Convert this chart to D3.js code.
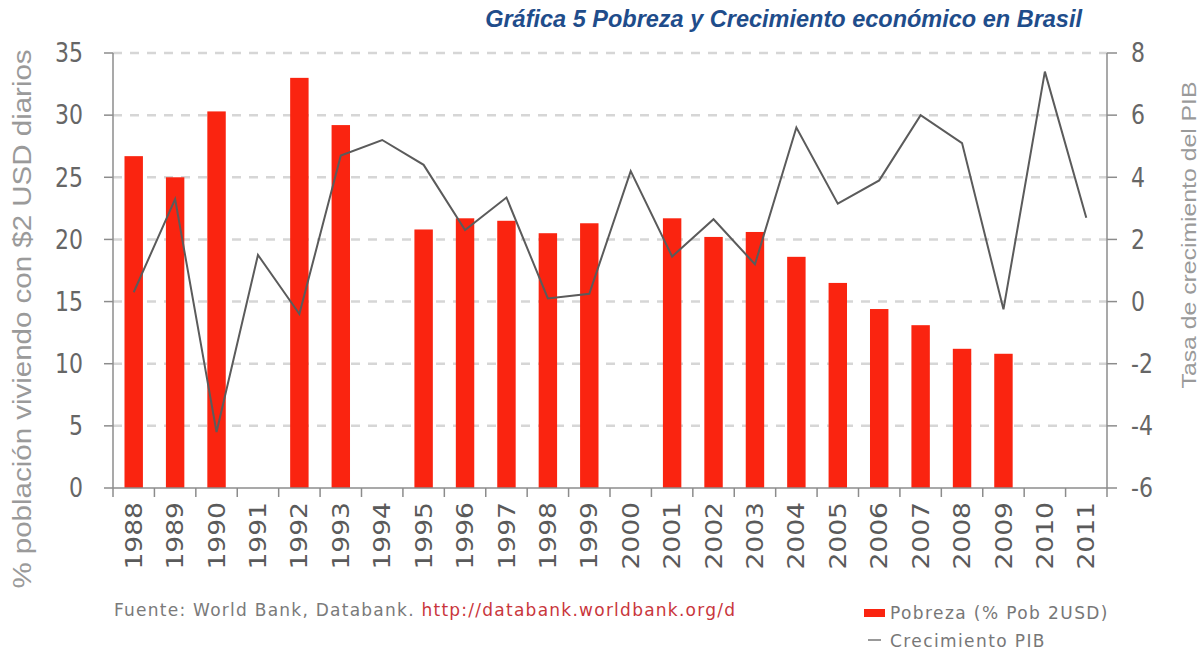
<!DOCTYPE html>
<html lang="es">
<head>
<meta charset="UTF-8">
<title>Pobreza y Crecimiento en Brasil</title>
<style>
  body { margin: 0; background: #fff; }
  svg { display: block; }
  .tick-label { font-family: "DejaVu Sans", Verdana, sans-serif; fill: #666; }
  .axis-title { font-family: "Liberation Sans", Arial, sans-serif; fill: #9a9a9a; }
</style>
<script src="https://cdn.jsdelivr.net/npm/d3@7"></script>
</head>
<body>
<svg width="1201" height="650"></svg>
<script>
// data
var years = ["1988","1989","1990","1991","1992","1993","1994","1995","1996","1997","1998","1999",
             "2000","2001","2002","2003","2004","2005","2006","2007","2008","2009","2010","2011"];
// % population living on $2/day (null = no data)
var pobreza = [26.7, 25.0, 30.3, null, 33.0, 29.2, null, 20.8, 21.7, 21.5, 20.5, 21.3,
               null, 21.7, 20.2, 20.6, 18.6, 16.5, 14.4, 13.1, 11.2, 10.8, null, null];
// GDP growth rate %
var crecimiento = [0.3, 3.3, -4.2, 1.5, -0.4, 4.7, 5.2, 4.4, 2.3, 3.35, 0.1, 0.25,
                   4.2, 1.45, 2.65, 1.2, 5.6, 3.15, 3.9, 6.0, 5.1, -0.25, 7.4, 2.7];
var leftTicks = [0, 5, 10, 15, 20, 25, 30, 35];
var rightTicks = [-6, -4, -2, 0, 2, 4, 6, 8];

var svg = d3.select("svg");
var plotL = 113, plotR = 1107, plotT = 53, plotB = 488;
var stretch = 1.18; // the original image is a bit taller than wide

var x = d3.scaleBand()
    .domain(years)
    .range([plotL, plotR])
    .paddingInner(0.555)
    .paddingOuter(0.2775);

var yL = d3.scaleLinear().domain([0, 35]).range([plotB, plotT]);
var yR = d3.scaleLinear().domain([-6, 8]).range([plotB, plotT]);

// title
svg.append("text")
    .attr("x", 1082).attr("y", 27)
    .attr("text-anchor", "end")
    .style("font-family", "'Liberation Sans', Arial, sans-serif")
    .style("font-weight", "bold")
    .style("font-style", "italic")
    .style("font-size", "23.5px")
    .style("fill", "#1f4d8b")
    .text("Gráfica 5 Pobreza y Crecimiento económico en Brasil");

// grid lines
svg.append("g")
    .selectAll("line")
    .data(leftTicks.filter(function (d) { return d > 0; }))
    .enter().append("line")
    .attr("x1", plotL).attr("x2", plotR)
    .attr("y1", function (d) { return yL(d); })
    .attr("y2", function (d) { return yL(d); })
    .attr("stroke", "#d6d6d6")
    .attr("stroke-width", 2.5)
    .attr("stroke-dasharray", "9,8");

// bars
svg.append("g")
    .selectAll("rect")
    .data(years.map(function (y, i) { return { year: y, v: pobreza[i] }; })
        .filter(function (d) { return d.v != null; }))
    .enter().append("rect")
    .attr("x", function (d) { return x(d.year); })
    .attr("width", x.bandwidth())
    .attr("y", function (d) { return yL(d.v); })
    .attr("height", function (d) { return yL(0) - yL(d.v); })
    .attr("fill", "#fa2410");

// growth line
var line = d3.line()
    .x(function (d) { return x(d.year) + x.bandwidth() / 2; })
    .y(function (d) { return yR(d.v); });

svg.append("path")
    .datum(years.map(function (y, i) { return { year: y, v: crecimiento[i] }; }))
    .attr("d", line)
    .attr("fill", "none")
    .attr("stroke", "#5b5b5b")
    .attr("stroke-width", 2);

// axes
var axisColor = "#8c8c8c";
svg.append("line").attr("x1", plotL).attr("x2", plotL).attr("y1", plotT).attr("y2", plotB)
    .attr("stroke", axisColor).attr("stroke-width", 1.5);
svg.append("line").attr("x1", plotR).attr("x2", plotR).attr("y1", plotT).attr("y2", plotB)
    .attr("stroke", axisColor).attr("stroke-width", 1.5);
svg.append("line").attr("x1", plotL).attr("x2", plotR).attr("y1", plotB).attr("y2", plotB)
    .attr("stroke", axisColor).attr("stroke-width", 1.5);

// left ticks
var gl = svg.append("g");
gl.selectAll("line").data(leftTicks).enter().append("line")
    .attr("x1", plotL - 9).attr("x2", plotL)
    .attr("y1", function (d) { return yL(d); })
    .attr("y2", function (d) { return yL(d); })
    .attr("stroke", axisColor).attr("stroke-width", 1.5);
gl.selectAll("text").data(leftTicks).enter().append("text")
    .attr("class", "tick-label")
    .attr("transform", function (d) { return "translate(83," + yL(d) + ") scale(1," + stretch + ")"; })
    .attr("dy", "0.36em")
    .attr("text-anchor", "end")
    .style("font-size", "22px")
    .text(function (d) { return d; });

// right ticks
var gr = svg.append("g");
gr.selectAll("line").data(rightTicks).enter().append("line")
    .attr("x1", plotR).attr("x2", plotR + 10)
    .attr("y1", function (d) { return yR(d); })
    .attr("y2", function (d) { return yR(d); })
    .attr("stroke", axisColor).attr("stroke-width", 1.5);
gr.selectAll("text").data(rightTicks).enter().append("text")
    .attr("class", "tick-label")
    .attr("transform", function (d) { return "translate(1131," + yR(d) + ") scale(1," + stretch + ")"; })
    .attr("dy", "0.36em")
    .style("font-size", "22px")
    .text(function (d) { return d; });

// bottom ticks at band boundaries
var bounds = years.map(function (y) { return x(y) - x.step() * x.paddingInner() / 2; });
bounds.push(plotR);
svg.append("g").selectAll("line").data(bounds).enter().append("line")
    .attr("x1", function (d) { return d; })
    .attr("x2", function (d) { return d; })
    .attr("y1", plotB).attr("y2", plotB + 9)
    .attr("stroke", axisColor).attr("stroke-width", 1.5);

svg.append("g").selectAll("text").data(years).enter().append("text")
    .attr("class", "tick-label")
    .attr("transform", function (d) {
        return "translate(" + (x(d) + x.bandwidth() / 2) + "," + (plotB + 14) + ") scale(1," + stretch + ") rotate(-90)";
    })
    .attr("dy", "0.36em")
    .attr("text-anchor", "end")
    .style("font-size", "22.5px")
    .style("fill", "#5a5a5a")
    .text(function (d) { return d; });

// axis titles
svg.append("text")
    .attr("class", "axis-title")
    .attr("transform", "translate(31,319) scale(1," + stretch + ") rotate(-90)")
    .attr("text-anchor", "middle")
    .style("font-size", "25px")
    .text("% población viviendo con $2 USD diarios");

svg.append("text")
    .attr("class", "axis-title")
    .attr("transform", "translate(1196,235) scale(1," + stretch + ") rotate(-90)")
    .attr("text-anchor", "middle")
    .style("font-size", "21px")
    .text("Tasa de crecimiento del PIB");

// source note
var src = svg.append("text")
    .attr("x", 114).attr("y", 616)
    .style("font-family", "'DejaVu Sans', Verdana, sans-serif")
    .style("font-size", "17px")
    .style("letter-spacing", "1.25px")
    .style("fill", "#7a7a7a");
src.append("tspan").text("Fuente: World Bank, Databank. ");
src.append("tspan").style("fill", "#c9363c").text("http://databank.worldbank.org/d");

// legend
var lg = svg.append("g")
    .style("font-family", "'DejaVu Sans', Verdana, sans-serif")
    .style("font-size", "17px")
    .style("letter-spacing", "1.4px")
    .style("fill", "#777");
lg.append("rect").attr("x", 864).attr("y", 609).attr("width", 21).attr("height", 8).attr("fill", "#fa2410");
lg.append("text").attr("x", 890).attr("y", 619).text("Pobreza (% Pob 2USD)");
lg.append("line").attr("x1", 868).attr("x2", 881).attr("y1", 640).attr("y2", 640)
    .attr("stroke", "#777").attr("stroke-width", 1.5);
lg.append("text").attr("x", 890).attr("y", 647).text("Crecimiento PIB");
</script>
</body>
</html>
